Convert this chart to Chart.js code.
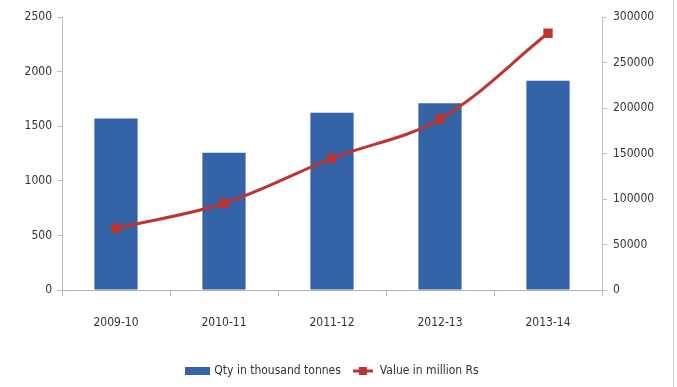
<!DOCTYPE html>
<html>
<head>
<meta charset="utf-8">
<script src="https://cdn.jsdelivr.net/npm/chart.js@4/dist/chart.umd.min.js"></script>
<style>
  body { margin: 0; background: #fff; }
  #wrap { width: 677px; height: 387px; position: relative; }
  #wrap:after { content: ""; position: absolute; right: 3px; top: 0; bottom: 0; border-right: 1px solid #d0d0d0; }
</style>
</head>
<body>
<div id="wrap"><canvas id="chart" width="677" height="387"></canvas></div>
<script>
// chart data
const years = ["2009-10", "2010-11", "2011-12", "2012-13", "2013-14"];
const qtyThousandTonnes = [1570, 1257, 1624, 1710, 1917];
const valueMillionRs = [67800, 95300, 144700, 187900, 282100];
const qtyTicks = [0, 500, 1000, 1500, 2000, 2500];
const valueTicks = [0, 50000, 100000, 150000, 200000, 250000, 300000];

const barBlue = "#3563a8";
const lineRed = "#bd3532";
const fontFam = "'Liberation Sans Narrow', 'DejaVu Sans Condensed', Arial, sans-serif";

// legend swatches: a plain box and a line with square marker
function swatch(w, h, draw) {
  const c = document.createElement("canvas");
  c.width = w; c.height = h;
  draw(c.getContext("2d"));
  return c;
}
const barSwatch = swatch(25, 8, ctx => { ctx.fillStyle = barBlue; ctx.fillRect(0, 0, 25, 8); });
const lineSwatch = swatch(20, 8, ctx => {
  ctx.strokeStyle = lineRed; ctx.lineWidth = 3;
  ctx.beginPath(); ctx.moveTo(0, 4); ctx.lineTo(20, 4); ctx.stroke();
  ctx.fillStyle = lineRed; ctx.fillRect(6, 0, 8, 8);
});

new Chart(document.getElementById("chart").getContext("2d"), {
  type: "bar",
  data: {
    labels: years,
    datasets: [
      {
        type: "line",
        label: "Value in million Rs",
        data: valueMillionRs,
        yAxisID: "y1",
        borderColor: lineRed,
        backgroundColor: lineRed,
        borderWidth: 3,
        tension: 0.35,
        pointStyle: "rect",
        pointRadius: 4.5,
        pointHoverRadius: 4.5,
        order: 0
      },
      {
        label: "Qty in thousand tonnes",
        data: qtyThousandTonnes,
        yAxisID: "y",
        backgroundColor: barBlue,
        categoryPercentage: 1,
        barPercentage: 0.4,
        order: 1
      }
    ]
  },
  options: {
    responsive: false,
    animation: false,
    layout: { padding: { top: 17, bottom: 0, left: 0, right: 12 } },
    plugins: {
      tooltip: { enabled: false },
      legend: {
        position: "bottom",
        reverse: true,
        labels: {
          usePointStyle: true,
          pointStyleWidth: 22,
          color: "#333",
          font: { family: fontFam, size: 12 },
          padding: 11,
          generateLabels(chart) {
            return chart.data.datasets.map((ds, i) => ({
              text: ds.label,
              pointStyle: ds.type === "line" ? lineSwatch : barSwatch,
              fontColor: "#333",
              datasetIndex: i,
              hidden: false,
              lineWidth: 0
            }));
          }
        }
      }
    },
    scales: {
      x: {
        grid: { display: true, drawOnChartArea: false, color: "#b8b8b8", tickLength: 6, offset: true },
        border: { color: "#b0b0b0" },
        ticks: { color: "#333", font: { family: fontFam, size: 12 }, padding: 20 },
        afterFit(s) { s.height = 64; }
      },
      y: {
        position: "left",
        min: 0, max: 2500,
        afterBuildTicks(s) { s.ticks = qtyTicks.map(v => ({ value: v })); },
        grid: { drawOnChartArea: false, color: "#c0c0c0", tickLength: 5 },
        border: { color: "#c0c0c0" },
        ticks: { color: "#333", font: { family: fontFam, size: 12 }, padding: 5, callback: v => String(v) },
        afterFit(s) { s.width = 62; }
      },
      y1: {
        position: "right",
        min: 0, max: 300000,
        afterBuildTicks(s) { s.ticks = valueTicks.map(v => ({ value: v })); },
        grid: { drawOnChartArea: false, color: "#c0c0c0", tickLength: 5 },
        border: { color: "#c0c0c0" },
        ticks: { color: "#333", font: { family: fontFam, size: 12 }, padding: 6, callback: v => String(v) },
        afterFit(s) { s.width = 63; }
      }
    }
  }
});
</script>
</body>
</html>
